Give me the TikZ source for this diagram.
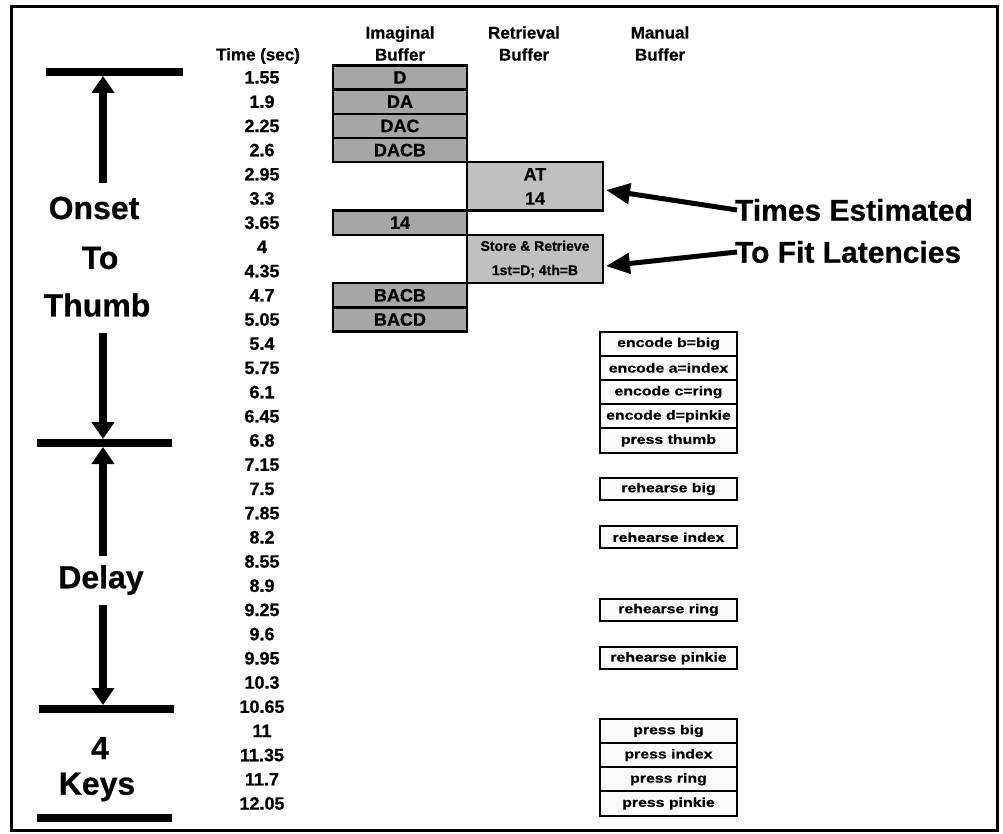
\documentclass[tikz,border=0pt]{standalone}
\usepackage{fontspec}
\setmainfont{Liberation Sans}[BoldFeatures={FakeBold=0.6}]
\newfontfamily\manfont{Liberation Sans}[FakeStretch=1.22, BoldFeatures={FakeBold=0.6}]
\usetikzlibrary{arrows.meta}
\definecolor{imgfill}{RGB}{166,166,166}
\definecolor{retfill}{RGB}{192,192,192}
\definecolor{manfill}{RGB}{250,250,250}
\begin{document}
\begin{tikzpicture}[x=1pt,y=-1pt,
 every node/.style={inner sep=0pt, outer sep=0pt},
 hdr/.style={font=\fontsize{17}{22}\selectfont\bfseries, align=center},
 tlbl/.style={font=\fontsize{18}{20}\selectfont\bfseries},
 ibox/.style={draw, line width=2.5pt, fill=imgfill, minimum width=134pt, minimum height=24.2pt, font=\fontsize{18}{20}\selectfont\bfseries},
 rbox/.style={draw, line width=2.5pt, fill=retfill, minimum width=136pt, minimum height=48.4pt, align=center},
 mbox/.style={draw, line width=2pt, fill=manfill, minimum width=137pt, minimum height=24.2pt, font=\manfont\fontsize{13}{15}\selectfont\bfseries},
 rhbox/.style={mbox, minimum height=22pt},
 biglbl/.style={font=\fontsize{32}{38}\selectfont\bfseries},
 notelbl/.style={font=\fontsize{30}{34}\selectfont\bfseries, anchor=west},
 bar/.style={line width=8pt},
 bigarrow/.style={line width=8pt, -{Triangle[width=22pt,length=17pt]}},
 notearrow/.style={line width=5pt, -{Triangle[width=20pt,length=24pt]}}
]
\useasboundingbox (0,0) rectangle (1003,834);
\draw[line width=2.5pt] (11.5,6.5) rectangle (997.5,830.5);

% headers
\node[hdr] (htime) at (258,56) {Time (sec)};
\node[hdr] (himg) at (400,43.5) {Imaginal\\Buffer};
\node[hdr] (hret) at (524,43.5) {Retrieval\\Buffer};
\node[hdr] (hman) at (660,43.5) {Manual\\Buffer};

% time labels
\foreach \t [count=\i from 0, evaluate=\i as \yy using 77.5+24.2*\i] in
 {1.55,1.9,2.25,2.6,2.95,3.3,3.65,4,4.35,4.7,5.05,5.4,5.75,6.1,6.45,6.8,7.15,7.5,7.85,8.2,8.55,8.9,9.25,9.6,9.95,10.3,10.65,11,11.35,11.7,12.05}
 \node[tlbl] (t\i) at (262,\yy) {\t};

% imaginal buffer
\node[ibox] (i1) at (400,77.5) {D};
\node[ibox] (i2) at (400,101.7) {DA};
\node[ibox] (i3) at (400,125.9) {DAC};
\node[ibox] (i4) at (400,150.1) {DACB};
\node[ibox] (i5) at (400,222.7) {14};
\node[ibox] (i6) at (400,295.3) {BACB};
\node[ibox] (i7) at (400,319.5) {BACD};

% retrieval buffer
\node[rbox, font=\fontsize{18}{24.2}\selectfont\bfseries] (r1) at (535,186.4) {AT\\14};
\node[rbox, font=\fontsize{14}{24.2}\selectfont\bfseries] (r2) at (535,259) {Store \& Retrieve\\1st=D; 4th=B};

% manual buffer
\node[mbox] (m1) at (668.5,343.7) {encode b=big};
\node[mbox] (m2) at (668.5,367.9) {encode a=index};
\node[mbox] (m3) at (668.5,392.1) {encode c=ring};
\node[mbox] (m4) at (668.5,416.3) {encode d=pinkie};
\node[mbox] (m5) at (668.5,440.5) {press thumb};
\node[rhbox] (m6) at (668.5,488.9) {rehearse big};
\node[rhbox] (m7) at (668.5,537.3) {rehearse index\hspace{8pt}};
\node[rhbox] (m8) at (668.5,609.9) {rehearse ring};
\node[rhbox] (m9) at (668.5,658.3) {rehearse pinkie\hspace{6pt}};
\node[mbox] (m10) at (668.5,730.9) {press big};
\node[mbox] (m11) at (668.5,755.1) {press index};
\node[mbox] (m12) at (668.5,779.3) {press ring};
\node[mbox] (m13) at (668.5,803.5) {press pinkie};

% left labels
\node[biglbl] (onset) at (94,208) {Onset};
\node[biglbl] (to) at (100,258) {To};
\node[biglbl] (thumb) at (97,305) {Thumb};
\node[biglbl] (delay) at (101,580) {Delay};
\node[biglbl] (four) at (100,748) {4};
\node[biglbl] (keys) at (97,787) {Keys};

% bars
\coordinate (b1l) at (46,72); \coordinate (b1r) at (183,72);
\coordinate (b2l) at (37,443); \coordinate (b2r) at (172,443);
\coordinate (b3l) at (39,709); \coordinate (b3r) at (174,709);
\coordinate (b4l) at (37,818); \coordinate (b4r) at (172,818);
\draw[bar] (b1l) -- (b1r);
\draw[bar] (b2l) -- (b2r);
\draw[bar] (b3l) -- (b3r);
\draw[bar] (b4l) -- (b4r);

% vertical arrows
\coordinate (a1s) at (103,183); \coordinate (a1e) at (103,76);
\coordinate (a2s) at (103,333); \coordinate (a2e) at (103,439);
\coordinate (a3s) at (103,556); \coordinate (a3e) at (103,447);
\coordinate (a4s) at (103,605); \coordinate (a4e) at (103,705);
\draw[bigarrow] (a1s) -- (a1e);
\draw[bigarrow] (a2s) -- (a2e);
\draw[bigarrow] (a3s) -- (a3e);
\draw[bigarrow] (a4s) -- (a4e);

% notes
\node[notelbl] (times) at (735,210) {Times Estimated};
\node[notelbl] (fit) at (735,252) {To Fit Latencies};
\coordinate (n1) at (606,190);
\coordinate (n2) at (606,266);
\draw[notearrow] ([xshift=2pt]times.west) -- (n1);
\draw[notearrow] ([xshift=2pt]fit.west) -- (n2);
\end{tikzpicture}
\end{document}
